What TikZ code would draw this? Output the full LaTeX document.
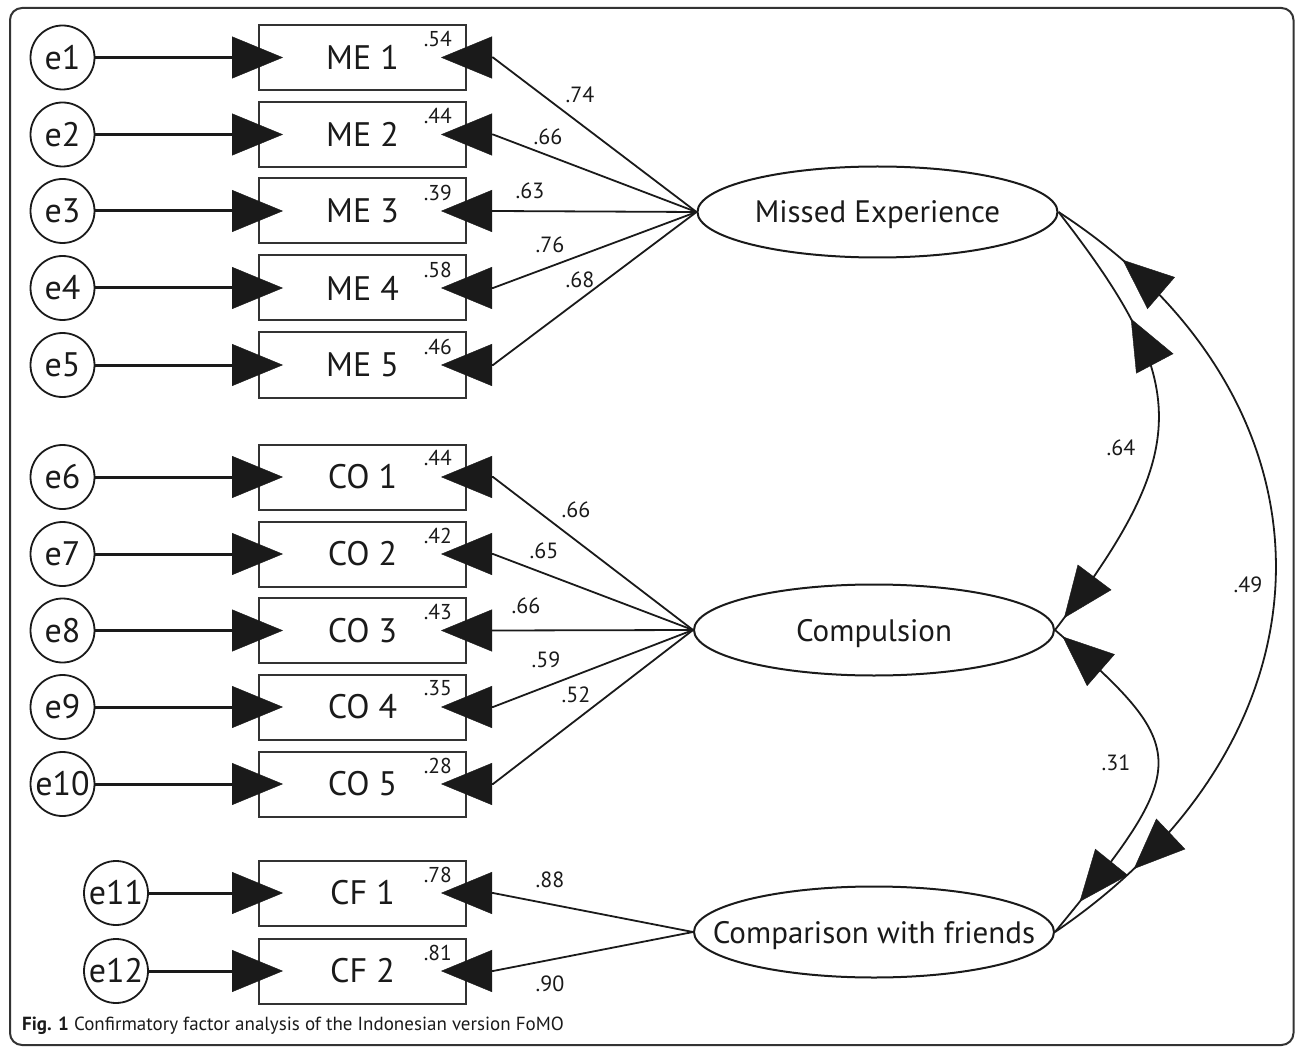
\documentclass[tikz,border=0pt]{standalone}
\usepackage{fontspec}
\setmainfont{PT Sans}
\usetikzlibrary{arrows.meta,shapes.geometric,decorations.markings}
\definecolor{ink}{HTML}{1A1A1A}
\definecolor{boxgray}{HTML}{333333}
\begin{document}
\begin{tikzpicture}[x=1pt,y=-1pt,
  every node/.style={text=ink},
  >={Triangle[length=51pt,width=42pt,line width=0.4pt]},
  err/.style={circle,draw=ink,line width=1.8pt,minimum size=64pt,inner sep=0pt,font=\fontsize{34}{40}\selectfont},
  obs/.style={rectangle,draw=boxgray,line width=2pt,minimum width=207pt,minimum height=65pt,inner sep=0pt,font=\fontsize{34}{40}\selectfont},
  lat/.style={ellipse,draw=ink,line width=2pt,minimum width=360pt,minimum height=91pt,inner sep=0pt,text height=22pt,text depth=0pt,font=\fontsize{31}{36}\selectfont},
  rsq/.style={anchor=north east,inner sep=0pt,font=\fontsize{21.5}{24}\selectfont},
  lbl/.style={inner sep=0pt,font=\fontsize{22}{24}\selectfont},
  errarrow/.style={line width=3pt,draw=ink,->},
  loadarrow/.style={line width=1.8pt,draw=ink,->},
  cov/.style={line width=1.8pt,draw=ink},
]
\useasboundingbox (0,0) rectangle (1295,1048);
\draw[draw=boxgray,line width=2pt,rounded corners=12pt] (10,8) rectangle (1293.5,1045);

% observed variables
\foreach \n/\t/\y in {me1/ME 1/57.5, me2/ME 2/134.5, me3/ME 3/211, me4/ME 4/288, me5/ME 5/365,
                      co1/CO 1/477, co2/CO 2/554, co3/CO 3/630.5, co4/CO 4/707, co5/CO 5/784,
                      cf1/CF 1/893, cf2/CF 2/971}
  \node[obs] (\n) at (362.5,\y) {\t};

% error terms
\foreach \n/\t/\x/\y in {e1/e1/62.5/57.5, e2/e2/62.5/134.5, e3/e3/62.5/211, e4/e4/62.5/288, e5/e5/62.5/365,
                         e6/e6/62.5/477, e7/e7/62.5/554, e8/e8/62.5/630.5, e9/e9/62.5/707, e10/e10/62.5/784,
                         e11/e11/116/893, e12/e12/116/971}
  \node[err] (\n) at (\x,\y) {\t};

% latent variables
\node[lat] (ME) at (877.5,212) {\makebox[0pt]{Missed Experience}};
\node[lat] (CO) at (874,630) {\makebox[0pt]{Compulsion}};
\node[lat] (CF) at (874,932) {\makebox[0pt]{Comparison with friends}};

% error arrows
\foreach \e/\o in {e1/me1,e2/me2,e3/me3,e4/me4,e5/me5,e6/co1,e7/co2,e8/co3,e9/co4,e10/co5,e11/cf1,e12/cf2}
  \draw[errarrow] (\e) -- ([xshift=25pt]\o.west);

% loadings
\foreach \f/\o in {ME/me1,ME/me2,ME/me3,ME/me4,ME/me5,CO/co1,CO/co2,CO/co3,CO/co4,CO/co5,CF/cf1,CF/cf2}
  \draw[loadarrow] (\f.west) -- ([xshift=26pt]\o.east) -- ([xshift=-26pt]\o.east);

% R squared
\foreach \o/\v in {me1/.54,me2/.44,me3/.39,me4/.58,me5/.46,co1/.44,co2/.42,co3/.43,co4/.35,co5/.28,cf1/.78,cf2/.81}
  \node[rsq] (r\o) at ([xshift=-15pt,yshift=-7pt]\o.north east) {\v};

% loading labels
\node[lbl] (lme1) at (580,95) {.74};
\node[lbl] (lme2) at (548,137) {.66};
\node[lbl] (lme3) at (530,191) {.63};
\node[lbl] (lme4) at (550,245) {.76};
\node[lbl] (lme5) at (580,280) {.68};
\node[lbl] (lco1) at (576,510) {.66};
\node[lbl] (lco2) at (544,551) {.65};
\node[lbl] (lco3) at (526,606) {.66};
\node[lbl] (lco4) at (546,660) {.59};
\node[lbl] (lco5) at (576,695) {.52};
\node[lbl] (lcf1) at (550,880) {.88};
\node[lbl] (lcf2) at (550,984) {.90};

% covariances
\draw[cov,postaction={decorate,decoration={markings,
    mark=at position 129pt with {\arrowreversed{>}},
    mark=at position -15pt with {\arrow{>}}}}]
  (ME.east) .. controls (1193,385) and (1193,449) .. (CO.east);
\draw[cov,postaction={decorate,decoration={markings,
    mark=at position 80pt with {\arrowreversed{>}},
    mark=at position -101pt with {\arrow{>}}}}]
  (ME.east) .. controls (1349,401) and (1349,732) .. (CF.east);
\draw[cov,postaction={decorate,decoration={markings,
    mark=at position 10pt with {\arrowreversed{>}},
    mark=at position -39pt with {\arrow{>}}}}]
  (CO.east) .. controls (1193,750) and (1193,764) .. (CF.east);

\node[lbl] (c64) at (1121,448) {.64};
\node[lbl] (c49) at (1248,585) {.49};
\node[lbl] (c31) at (1116,763) {.31};

% caption
\node[anchor=base west,inner sep=0pt,font=\fontsize{19}{22}\selectfont] (cap) at (22,1030)
  {\textbf{Fig. 1} Confirmatory factor analysis of the Indonesian version FoMO};
\end{tikzpicture}
\end{document}
